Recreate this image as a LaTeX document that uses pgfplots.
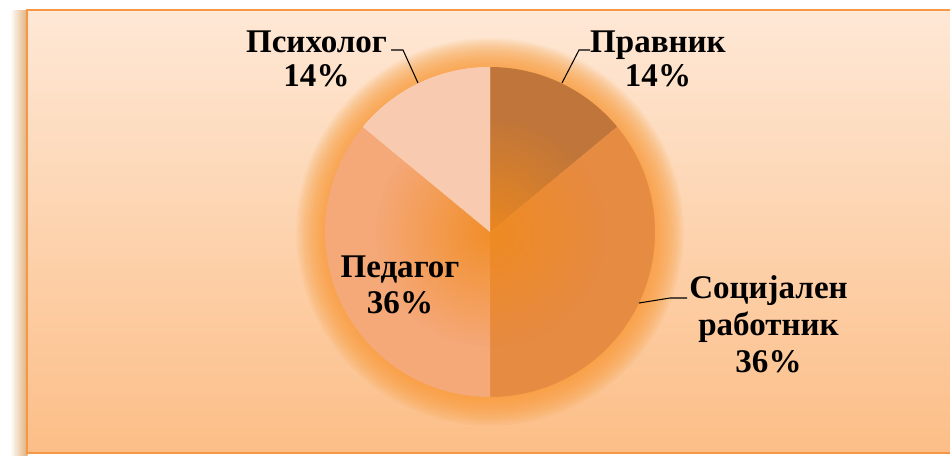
\documentclass[border=0pt]{standalone}
\usepackage{pgfplots}
\pgfplotsset{compat=1.18}
\usepackage{pgfplotstable}
\usepackage{fontspec}
\setmainfont{Liberation Serif}
\usetikzlibrary{fadings}

\definecolor{bgtop}{HTML}{FEE8D6}
\definecolor{bgbot}{HTML}{FCBE87}
\definecolor{framec}{HTML}{F79646}
\definecolor{shadowc}{HTML}{E0AF78}
\definecolor{glowc}{HTML}{F99A35}
\definecolor{corec}{HTML}{F18A1C}
\definecolor{pravnik}{HTML}{C0763A}
\definecolor{socijalen}{HTML}{E68B42}
\definecolor{pedagog}{HTML}{F5A878}
\definecolor{psiholog}{HTML}{F8CAB0}

\tikzfading[name=corefade, inner color=transparent!15, outer color=transparent!100]

% share of each group (%), slice colour, 1 = drawn above the orange core
\pgfplotstableread{
name      value colour    top
Pravnik   14    pravnik   0
Socijalen 36    socijalen 0
Pedagog   36    pedagog   0
Psiholog  14    psiholog  1
}\pietable

\newcommand\lbl{\fontsize{18.8}{22}\selectfont\bfseries}

\begin{document}
\begin{tikzpicture}
\begin{axis}[
    x=1cm, y=1cm,
    xmin=0, xmax=19, ymin=0, ymax=9.1,
    hide axis,
]
% page, frame and its shadow
\fill[white] (0,0) rectangle (19,9.1);
\shade[left color=white, right color=shadowc] (0.2,0) rectangle (0.55,8.9);
\shade[top color=bgtop, bottom color=bgbot] (0.54,0.04) rectangle (19.3,8.9);
\draw[framec, line width=1pt] (19.3,8.9) -- (0.54,8.9) -- (0.54,0.04) -- (19.3,0.04);

% glow round the pie
\pgfplotsinvokeforeach{1,...,16}{
  \fill[glowc, opacity=0.08] (9.8,4.46) circle[radius={3.3+0.036*#1}];
}

\def\cx{9.8}\def\cy{4.46}\def\R{3.3}
\pgfplotstablegetrowsof{\pietable}
\pgfmathtruncatemacro\lastrow{\pgfplotsretval-1}

% slices, clockwise from 12 o'clock
\def\cum{0}
\pgfplotsforeachungrouped \i in {0,...,\lastrow}{%
  \pgfplotstablegetelem{\i}{value}\of\pietable \let\sval\pgfplotsretval
  \pgfplotstablegetelem{\i}{colour}\of\pietable \let\scol\pgfplotsretval
  \pgfmathsetmacro\sa{90-3.6*\cum}
  \pgfmathsetmacro\sb{90-3.6*(\cum+\sval)}
  \edef\cmd{\noexpand\fill[\scol] (axis cs:\cx,\cy) -- ++(\sa:\R)
    arc[start angle=\sa, end angle=\sb, radius=\R] -- cycle;}
  \cmd
  \pgfmathsetmacro\cum{\cum+\sval}
}

% orange core
\fill[corec, path fading=corefade] (9.8,4.46) circle[radius=2.3];

% slices that sit above the core
\def\cum{0}
\pgfplotsforeachungrouped \i in {0,...,\lastrow}{%
  \pgfplotstablegetelem{\i}{value}\of\pietable \let\sval\pgfplotsretval
  \pgfplotstablegetelem{\i}{colour}\of\pietable \let\scol\pgfplotsretval
  \pgfplotstablegetelem{\i}{top}\of\pietable \let\stop\pgfplotsretval
  \pgfmathsetmacro\sa{90-3.6*\cum}
  \pgfmathsetmacro\sb{90-3.6*(\cum+\sval)}
  \ifnum\stop=1
    \edef\cmd{\noexpand\fill[\scol] (axis cs:\cx,\cy) -- ++(\sa:\R)
      arc[start angle=\sa, end angle=\sb, radius=\R] -- cycle;}
    \cmd
  \fi
  \pgfmathsetmacro\cum{\cum+\sval}
}

% labels and leader lines
\draw[black, line width=0.6pt] (7.82,8.10) -- (8.06,8.10) -- (8.36,7.44);
\draw[black, line width=0.6pt] (11.80,8.10) -- (11.58,8.10) -- (11.24,7.44);
\draw[black, line width=0.6pt] (12.78,3.04) -- (13.40,3.14) -- (13.74,3.14);

\node[anchor=base, font=\lbl] at (6.33,8.06) {Психолог};
\node[anchor=base, font=\lbl] at (6.33,7.38) {14\%};
\node[anchor=base, font=\lbl] at (13.16,8.06) {Правник};
\node[anchor=base, font=\lbl] at (13.16,7.38) {14\%};
\node[anchor=base, font=\lbl] at (15.37,3.14) {Социјален};
\node[anchor=base, font=\lbl] at (15.37,2.40) {работник};
\node[anchor=base, font=\lbl] at (15.37,1.66) {36\%};
\node[anchor=base, font=\lbl] at (8.00,3.56) {Педагог};
\node[anchor=base, font=\lbl] at (8.00,2.84) {36\%};
\end{axis}
\end{tikzpicture}
\end{document}
